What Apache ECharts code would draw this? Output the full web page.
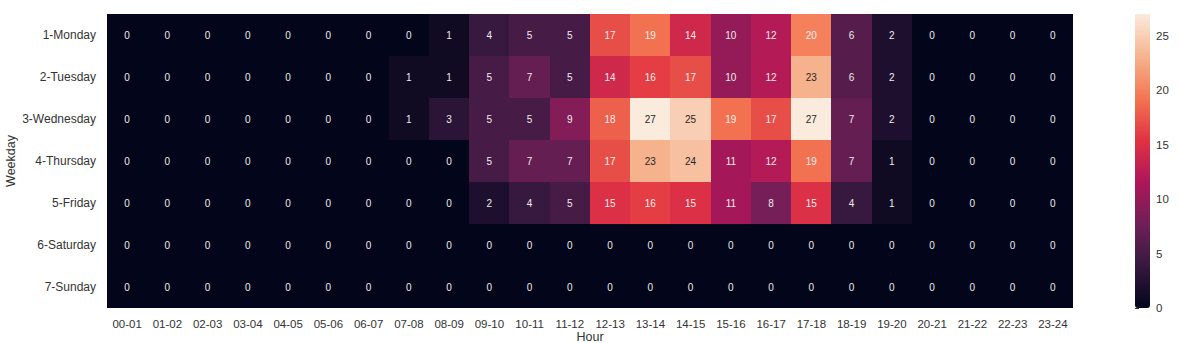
<!DOCTYPE html>
<html>
<head>
<meta charset="utf-8">
<script src="https://cdn.jsdelivr.net/npm/echarts@6/dist/echarts.min.js"></script>
<style>html,body{margin:0;padding:0;background:#fff}#c{width:1180px;height:343px}#c svg path{shape-rendering:crispEdges}</style>
</head>
<body>
<div id="c"></div>
<script>
const hours = ['00-01','01-02','02-03','03-04','04-05','05-06','06-07','07-08','08-09','09-10','10-11','11-12','12-13','13-14','14-15','15-16','16-17','17-18','18-19','19-20','20-21','21-22','22-23','23-24'];
const weekdays = ['1-Monday','2-Tuesday','3-Wednesday','4-Thursday','5-Friday','6-Saturday','7-Sunday'];
const monday    = [0,0,0,0,0,0,0,0,1,4,5,5,17,19,14,10,12,20,6,2,0,0,0,0];
const tuesday   = [0,0,0,0,0,0,0,1,1,5,7,5,14,16,17,10,12,23,6,2,0,0,0,0];
const wednesday = [0,0,0,0,0,0,0,1,3,5,5,9,18,27,25,19,17,27,7,2,0,0,0,0];
const thursday  = [0,0,0,0,0,0,0,0,0,5,7,7,17,23,24,11,12,19,7,1,0,0,0,0];
const friday    = [0,0,0,0,0,0,0,0,0,2,4,5,15,16,15,11,8,15,4,1,0,0,0,0];
const saturday  = [0,0,0,0,0,0,0,0,0,0,0,0,0,0,0,0,0,0,0,0,0,0,0,0];
const sunday    = [0,0,0,0,0,0,0,0,0,0,0,0,0,0,0,0,0,0,0,0,0,0,0,0];
const colorbarTicks = [0,5,10,15,20,25];
const vMin = 0, vMax = 27;

const rows = [monday,tuesday,wednesday,thursday,friday,saturday,sunday];
// seaborn "rocket" colormap stops
const rocket = ['#03051A','#35193E','#701F57','#AD1759','#E13342','#F37651','#F6B48F','#FAEBDD'];

const data = [];
rows.forEach((r, yi) => r.forEach((v, xi) => {
  data.push({value:[xi, yi, v], label:{color: v >= 22 ? '#262626' : '#ededed'}});
}));

const font = 'Liberation Sans, Arial, sans-serif';
const chart = echarts.init(document.getElementById('c'), null, {renderer:'svg'});
chart.setOption({
  animation:false,
  textStyle:{fontFamily:font},
  grid:[
    {left:107, right:107, top:14, bottom:35, outerBoundsMode:'none', containLabel:false},
    {left:1135, width:15, top:14, bottom:35, outerBoundsMode:'none', containLabel:false}
  ],
  xAxis:[
    {type:'category', data:hours, gridIndex:0, axisLine:{show:false}, axisTick:{show:false},
     splitLine:{show:false}, splitArea:{show:false}, axisLabel:{color:'#333', fontSize:11.5, margin:10, fontFamily:font},
     name:'Hour', nameLocation:'middle', nameGap:22, nameMoveOverlap:false,
     nameTextStyle:{color:'#333', fontSize:12.5, fontFamily:font}},
    {type:'value', gridIndex:1, show:false}
  ],
  yAxis:[
    {type:'category', data:weekdays, inverse:true, gridIndex:0, axisLine:{show:false}, axisTick:{show:false},
     splitLine:{show:false}, splitArea:{show:false}, axisLabel:{color:'#333', fontSize:12, margin:11, fontFamily:font},
     name:'Weekday', nameLocation:'middle', nameGap:90, nameRotate:90, nameMoveOverlap:false,
     nameTextStyle:{color:'#333', fontSize:12.5, fontFamily:font}},
    {type:'value', gridIndex:1, position:'right', min:vMin, max:vMax, interval:5,
     axisLine:{show:false}, axisTick:{show:true, length:4, lineStyle:{color:'#333'}, customValues:colorbarTicks},
     splitLine:{show:false},
     axisLabel:{color:'#333', fontSize:11.5, margin:6, fontFamily:font, customValues:colorbarTicks}
    }
  ],
  visualMap:{
    type:'continuous', min:vMin, max:vMax, calculable:false, showLabel:false, text:null,
    left:1135, top:14, itemWidth:15, itemHeight:294, padding:0,
    indicatorIcon:'none', indicatorSize:0, indicatorStyle:{opacity:0},
    inRange:{color:rocket}, seriesIndex:0, hoverLink:false
  },
  series:[{
    type:'heatmap', xAxisIndex:0, yAxisIndex:0, data:data,
    label:{show:true, fontSize:10, fontFamily:font},
    itemStyle:{borderWidth:0},
    emphasis:{disabled:true}
  }]
});
</script>
</body>
</html>
